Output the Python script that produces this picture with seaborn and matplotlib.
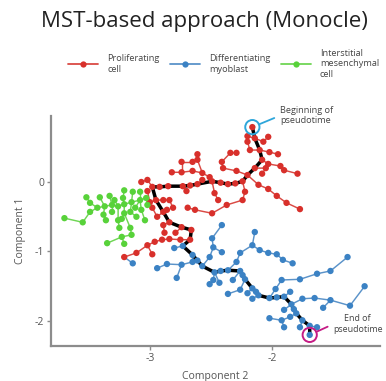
import matplotlib
matplotlib.use("Agg")
import matplotlib.pyplot as plt
import pandas as pd
import seaborn as sns
from matplotlib.lines import Line2D

sns.set_theme(style="ticks")
plt.rcParams["font.family"] = ["Open Sans", "DejaVu Sans"]
plt.rcParams["axes.unicode_minus"] = False

# ---------------- data ----------------
cell_types = ["Proliferating\ncell", "Differentiating\nmyoblast",
              "Interstitial\nmesenchymal\ncell"]
marker_colors = ["#d8302b", "#3b82c4", "#58d23a"]
edge_colors = ["#da4a44", "#5b93c9", "#6fd655"]

title = "MST-based approach (Monocle)"
x_label = "Component 2"
y_label = "Component 1"
x_ticks = [-3, -2]
y_ticks = [0, -1, -2]

# main pseudotime path (black), proliferating part then myoblast part
trunk_prolif = [
    (-2.16, 0.79), (-2.14, 0.63), (-2.10, 0.46), (-2.08, 0.32), (-2.14, 0.20),
    (-2.20, 0.10), (-2.24, 0.01), (-2.30, -0.02), (-2.36, -0.03), (-2.42, -0.01),
    (-2.49, 0.01), (-2.61, -0.03), (-2.67, -0.05), (-2.73, -0.06), (-2.85, -0.06),
    (-2.92, -0.07), (-2.98, -0.07), (-2.95, -0.26), (-2.89, -0.43), (-2.84, -0.58),
    (-2.74, -0.65), (-2.66, -0.69), (-2.67, -0.83)]
trunk_diff = [
    (-2.67, -0.83), (-2.73, -0.92), (-2.65, -1.05), (-2.61, -1.13), (-2.57, -1.21),
    (-2.47, -1.30), (-2.42, -1.28), (-2.36, -1.27), (-2.26, -1.28), (-2.24, -1.34),
    (-2.22, -1.40), (-2.16, -1.53), (-2.13, -1.58), (-2.11, -1.63), (-2.02, -1.67),
    (-1.96, -1.66), (-1.90, -1.65), (-1.84, -1.76), (-1.82, -1.83), (-1.80, -1.89),
    (-1.75, -1.99), (-1.69, -2.07), (-1.69, -2.20)]

# side branches of the tree (first point of each = junction)
prolif_branches = [
    [(-2.14, 0.63), (-2.20, 0.66)],
    [(-2.14, 0.63), (-2.07, 0.58), (-2.03, 0.65)],
    [(-2.10, 0.46), (-2.02, 0.43), (-1.95, 0.40)],
    [(-2.08, 0.32), (-2.03, 0.26), (-1.93, 0.23), (-1.90, 0.17), (-1.79, 0.12)],
    [(-2.10, 0.46), (-2.18, 0.46), (-2.20, 0.58)],
    [(-2.14, 0.20), (-2.05, 0.20), (-2.08, 0.12)],
    [(-2.20, 0.10), (-2.29, 0.16), (-2.40, 0.20), (-2.41, 0.29), (-2.34, 0.42), (-2.29, 0.42)],
    [(-2.49, 0.01), (-2.51, 0.07), (-2.57, 0.13), (-2.61, 0.32), (-2.61, 0.40)],
    [(-2.57, 0.13), (-2.65, 0.16), (-2.74, 0.14), (-2.82, 0.14)],
    [(-2.74, 0.14), (-2.74, 0.29), (-2.65, 0.29)],
    [(-2.98, -0.07), (-3.02, 0.03), (-3.07, 0.00)],
    [(-2.95, -0.26), (-3.00, -0.29), (-3.02, -0.13)],
    [(-2.95, -0.26), (-2.89, -0.26), (-2.84, -0.26), (-2.81, -0.37)],
    [(-2.89, -0.43), (-2.94, -0.50), (-2.98, -0.37)],
    [(-2.89, -0.43), (-2.86, -0.40)],
    [(-2.84, -0.58), (-2.89, -0.62), (-2.88, -0.73)],
    [(-2.67, -0.83), (-2.75, -0.83), (-2.84, -0.82), (-2.90, -0.83), (-2.96, -0.86),
     (-3.02, -0.91), (-3.11, -1.02), (-3.21, -1.08)],
    [(-3.02, -0.91), (-2.98, -1.04)],
    [(-2.74, -0.65), (-2.79, -0.73)],
    [(-2.24, 0.01), (-2.22, -0.14), (-2.24, -0.26), (-2.37, -0.33), (-2.49, -0.45),
     (-2.63, -0.40), (-2.69, -0.37)],
    [(-2.49, 0.01), (-2.47, -0.16), (-2.44, -0.26)],
    [(-2.20, 0.10), (-2.11, -0.04), (-2.03, -0.10), (-1.96, -0.20), (-1.88, -0.30), (-1.77, -0.39)],
    [(-2.61, -0.03), (-2.57, 0.03)],
    [(-2.73, -0.06), (-2.70, -0.13)],
]
diff_branches = [
    [(-3.21, -1.08), (-3.14, -1.17)],
    [(-2.57, -1.21), (-2.51, -1.08), (-2.48, -0.94), (-2.49, -0.81), (-2.41, -0.62)],
    [(-2.48, -0.94), (-2.41, -1.01)],
    [(-2.65, -1.05), (-2.65, -1.15), (-2.74, -1.19), (-2.86, -1.18), (-2.94, -1.24)],
    [(-2.74, -1.19), (-2.78, -1.38)],
    [(-2.73, -0.92), (-2.80, -0.95)],
    [(-2.36, -1.27), (-2.29, -1.15), (-2.26, -1.02), (-2.16, -0.91), (-2.14, -0.72)],
    [(-2.16, -0.91), (-2.10, -0.98), (-2.03, -1.02), (-1.96, -1.04), (-1.91, -1.12), (-1.83, -1.17)],
    [(-2.47, -1.30), (-2.48, -1.41), (-2.51, -1.47)],
    [(-2.47, -1.30), (-2.43, -1.45)],
    [(-2.22, -1.40), (-2.26, -1.55), (-2.36, -1.61)],
    [(-2.16, -1.53), (-2.20, -1.60)],
    [(-2.02, -1.67), (-1.97, -1.54), (-1.92, -1.41), (-1.77, -1.40), (-1.63, -1.32),
     (-1.52, -1.28), (-1.38, -1.08)],
    [(-1.84, -1.76), (-1.75, -1.68), (-1.65, -1.67), (-1.52, -1.70), (-1.36, -1.78), (-1.24, -1.50)],
    [(-1.52, -1.70), (-1.58, -1.81)],
    [(-1.90, -1.65), (-1.85, -1.58)],
    [(-1.80, -1.89), (-1.85, -1.94), (-1.92, -1.99), (-2.02, -1.96)],
    [(-1.92, -1.99), (-1.90, -2.09)],
    [(-1.69, -2.07), (-1.63, -2.09)],
    [(-1.75, -1.99), (-1.77, -2.09)],
    [(-1.84, -1.76), (-1.90, -1.84)],
    [(-2.26, -1.28), (-2.32, -1.41)],
    [(-2.11, -1.63), (-2.16, -1.68)],
]
mesen_branches = [
    [(-3.70, -0.52), (-3.55, -0.58), (-3.49, -0.43), (-3.43, -0.37), (-3.37, -0.35),
     (-3.31, -0.33), (-3.26, -0.35), (-3.21, -0.32), (-3.15, -0.29), (-3.08, -0.26), (-3.03, -0.23)],
    [(-3.43, -0.37), (-3.49, -0.30), (-3.52, -0.22)],
    [(-3.37, -0.35), (-3.41, -0.22)],
    [(-3.37, -0.35), (-3.38, -0.47), (-3.36, -0.55)],
    [(-3.31, -0.33), (-3.33, -0.20)],
    [(-3.31, -0.33), (-3.31, -0.43)],
    [(-3.26, -0.35), (-3.26, -0.55), (-3.25, -0.66)],
    [(-3.26, -0.35), (-3.29, -0.26)],
    [(-3.21, -0.32), (-3.22, -0.23), (-3.21, -0.12)],
    [(-3.21, -0.32), (-3.21, -0.45), (-3.23, -0.53)],
    [(-3.15, -0.29), (-3.14, -0.14)],
    [(-3.15, -0.29), (-3.16, -0.43), (-3.11, -0.50)],
    [(-3.08, -0.26), (-3.07, -0.40), (-3.04, -0.55)],
    [(-3.08, -0.26), (-3.08, -0.14)],
    [(-3.08, -0.26), (-3.12, -0.37)],
    [(-3.03, -0.23), (-3.02, -0.33)],
    [(-3.21, -0.45), (-3.16, -0.66), (-3.15, -0.76), (-3.23, -0.79), (-3.35, -0.88)],
    [(-3.23, -0.79), (-3.21, -0.89)],
]

# ---------------- tables ----------------
pts, segs, seen = [], [], set()
path_id = 0
for ctype, paths in [(0, [trunk_prolif]), (1, [trunk_diff]), (0, prolif_branches),
                     (1, diff_branches), (2, mesen_branches)]:
    for path in paths:
        for (px, py) in path:
            if (px, py) not in seen:
                seen.add((px, py))
                pts.append({"x": px, "y": py, "type": cell_types[ctype]})
            segs.append({"x": px, "y": py, "path": path_id, "type": cell_types[ctype]})
        path_id += 1
pts = pd.DataFrame(pts)
segs = pd.DataFrame(segs)
trunk = pd.DataFrame(trunk_prolif + trunk_diff[1:], columns=["x", "y"])

# ---------------- figure ----------------
fig = plt.figure(figsize=(3.86, 3.81), dpi=100)
ax = fig.add_axes([51 / 386, 1 - 346 / 381, 329 / 386, 230 / 381])

sns.lineplot(data=segs, x="x", y="y", units="path", hue="type", hue_order=cell_types,
             palette=edge_colors, estimator=None, sort=False, legend=False,
             linewidth=1.05, ax=ax, zorder=1)
sns.lineplot(data=trunk, x="x", y="y", estimator=None, sort=False, color="black",
             linewidth=2.5, ax=ax, zorder=2)
sns.scatterplot(data=pts, x="x", y="y", hue="type", hue_order=cell_types,
                palette=marker_colors, s=21, linewidth=0, legend=False, ax=ax, zorder=3)

start = trunk_prolif[0]
end = trunk_diff[-1]
ax.scatter([start[0]], [start[1]], s=105, facecolors="none", edgecolors="#2ea6da",
           linewidths=1.4, zorder=4, clip_on=False)
ax.scatter([end[0]], [end[1]], s=105, facecolors="none", edgecolors="#c51b84",
           linewidths=1.4, zorder=4, clip_on=False)
ax.annotate("Beginning of\npseudotime", xy=start, xytext=(20, 8.3),
            textcoords="offset points", ha="left", va="center", fontsize=6.6,
            color="#444444", linespacing=1.25, annotation_clip=False,
            arrowprops=dict(arrowstyle="-", color="#2ea6da", lw=1.3, shrinkA=2,
                            shrinkB=5.5, relpos=(0, 0.5)))
ax.annotate("End of\npseudotime", xy=end, xytext=(34.5, 7.6),
            textcoords="offset points", ha="center", va="center", fontsize=6.4,
            color="#444444", linespacing=1.25, annotation_clip=False,
            arrowprops=dict(arrowstyle="-", color="#c51b84", lw=1.3, shrinkA=1.5,
                            shrinkB=5.5, relpos=(0, 0.5)))

ax.set_xlim(-3.81, -1.114)
ax.set_ylim(-2.36, 0.95)
ax.set_xticks(x_ticks)
ax.set_yticks(y_ticks)
ax.set_xticklabels([str(t) for t in x_ticks])
ax.set_yticklabels([str(t) for t in y_ticks])
for side in ["top", "right"]:
    ax.spines[side].set_visible(False)
for side in ["left", "bottom"]:
    ax.spines[side].set_color("#8c8c8c")
    ax.spines[side].set_linewidth(1.6)
ax.tick_params(length=3, width=1, color="#8c8c8c", labelsize=7.5,
               labelcolor="#555555", pad=2)
ax.set_xlabel(x_label, fontsize=7.5, color="#555555", labelpad=5)
ax.set_ylabel(y_label, fontsize=7.5, color="#555555", labelpad=6)

fig.text(0.53, 1 - 22 / 381, title, ha="center", va="center", fontsize=16, color="#222222")

handles = [Line2D([0], [0], color=edge_colors[i], lw=1.3, marker="o", markersize=4.5,
                  markerfacecolor=marker_colors[i], markeredgewidth=0)
           for i in range(3)]
fig.legend(handles, cell_types, loc="center left", bbox_to_anchor=(68 / 386, 1 - 64 / 381),
           ncol=3, frameon=False, fontsize=6.6, handlelength=3.3, handletextpad=1.0,
           columnspacing=1.1, borderpad=0, borderaxespad=0, labelcolor="#444444",
           labelspacing=0.2)

fig.savefig("out.png", dpi=100)
